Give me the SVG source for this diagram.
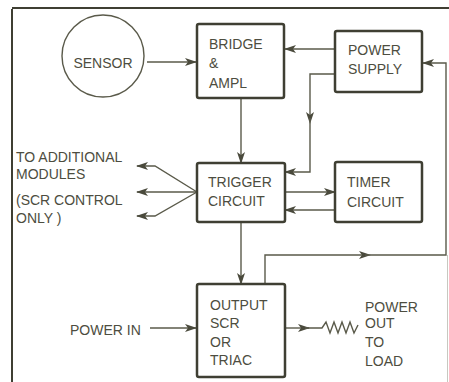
<svg xmlns="http://www.w3.org/2000/svg" width="449" height="382" viewBox="0 0 449 382">
<defs>
<marker id="ah" viewBox="0 0 12 8" refX="11" refY="4" markerWidth="12" markerHeight="8" markerUnits="userSpaceOnUse" orient="auto">
<path d="M0,0 L12,4 L0,8 L3,4 Z" fill="#4a4a3c"/>
</marker>
<marker id="mid" viewBox="0 0 12 8" refX="6" refY="4" markerWidth="12" markerHeight="8" markerUnits="userSpaceOnUse" orient="auto">
<path d="M0,0 L12,4 L0,8 L3,4 Z" fill="#4a4a3c"/>
</marker>
</defs>
<style>
.box{fill:#fff;stroke:#3f3f33;stroke-width:2.5}
.ln{fill:none;stroke:#5a5a4a;stroke-width:1.4}
.t{font-family:"Liberation Sans",Arial,sans-serif;font-size:14px;fill:#4d4d40}
.frame{stroke:#3f3f33;stroke-width:2;fill:none}
</style>
<rect x="0" y="0" width="449" height="382" fill="#fff"/>
<g id="frame">
<path class="frame" d="M12,8 L449,8 M12,9 L12,382"/>
<path d="M447.5,255 L447.5,382" stroke="#c8c8c0" stroke-width="1" fill="none"/>
</g>
<g id="connectors">
<path class="ln" d="M147,62 L196,62" marker-end="url(#ah)"/>
<path class="ln" d="M335,49 L285,49" marker-end="url(#ah)"/>
<path class="ln" d="M335,74 L310,74 L310,118" marker-end="url(#mid)"/>
<path class="ln" d="M310,118 L310,172 L285,172" marker-end="url(#ah)"/>
<path class="ln" d="M241,98 L241,163" marker-end="url(#ah)"/>
<path class="ln" d="M285,192 L335,192" marker-end="url(#ah)"/>
<path class="ln" d="M335,210 L285,210" marker-end="url(#ah)"/>
<path class="ln" d="M197,192 L155,166 L137,166" marker-end="url(#ah)"/>
<path class="ln" d="M197,192 L137,192" marker-end="url(#ah)"/>
<path class="ln" d="M197,192 L155,216 L137,216" marker-end="url(#ah)"/>
<path class="ln" d="M241,222 L241,284" marker-end="url(#ah)"/>
<path class="ln" d="M265,284 L265,255 L365,255" marker-end="url(#mid)"/>
<path class="ln" d="M365,255 L446,255 L446,63 L423,63" marker-end="url(#ah)"/>
<path class="ln" d="M150,328 L196,328" marker-end="url(#ah)"/>
<path class="ln" d="M285,328 L309,328" marker-end="url(#ah)"/>
<path class="ln" d="M305,328 L322,328 L326,322 L330,333 L334,322 L338,333 L342,322 L346,333 L350,322 L354,333 L358,325" stroke-width="2"/>
</g>
<g id="sensor">
<circle cx="103" cy="56" r="41" fill="#fff" stroke="#5a5a4a" stroke-width="1.4"/>
<text class="t" x="103" y="68" text-anchor="middle">SENSOR</text>
</g>
<g id="bridge">
<rect class="box" x="197" y="24" width="87" height="74" rx="2"/>
<text class="t" x="209" y="49">BRIDGE</text>
<text class="t" x="209" y="68">&amp;</text>
<text class="t" x="209" y="88">AMPL</text>
</g>
<g id="power-supply">
<rect class="box" x="335" y="31" width="87" height="61" rx="2"/>
<text class="t" x="348" y="55">POWER</text>
<text class="t" x="348" y="74">SUPPLY</text>
</g>
<g id="trigger">
<rect class="box" x="197" y="163" width="88" height="59" rx="2"/>
<text class="t" x="208" y="187">TRIGGER</text>
<text class="t" x="208" y="206">CIRCUIT</text>
</g>
<g id="timer">
<rect class="box" x="335" y="162" width="87" height="60" rx="2"/>
<text class="t" x="347" y="187">TIMER</text>
<text class="t" x="347" y="207">CIRCUIT</text>
</g>
<g id="output">
<rect class="box" x="197" y="284" width="88" height="93" rx="2"/>
<text class="t" x="210" y="310">OUTPUT</text>
<text class="t" x="210" y="328">SCR</text>
<text class="t" x="210" y="347">OR</text>
<text class="t" x="210" y="365">TRIAC</text>
</g>
<g id="labels">
<text class="t" x="16" y="162">TO ADDITIONAL</text>
<text class="t" x="16" y="179">MODULES</text>
<text class="t" x="16" y="205">(SCR CONTROL</text>
<text class="t" x="16" y="223">ONLY )</text>
<text class="t" x="70" y="335">POWER IN</text>
<text class="t" x="365" y="312">POWER</text>
<text class="t" x="365" y="328">OUT</text>
<text class="t" x="365" y="347">TO</text>
<text class="t" x="365" y="366">LOAD</text>
</g>
</svg>
